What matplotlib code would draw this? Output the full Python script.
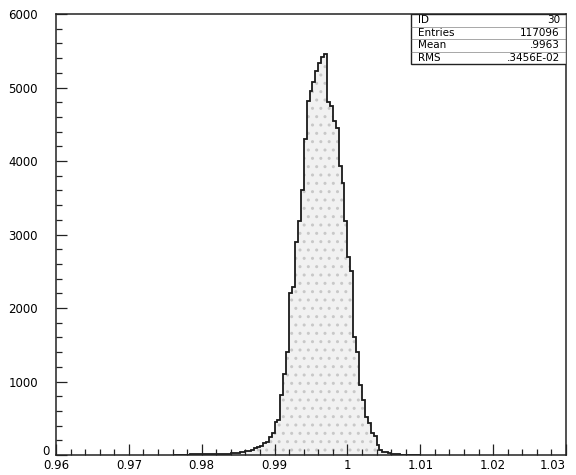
import numpy as np
import matplotlib
matplotlib.use("Agg")
import matplotlib.pyplot as plt
from matplotlib.ticker import MultipleLocator, FixedLocator

# Histogram 30: bin contents, 0.0004 wide bins starting at 0.9760
bin_lo = 0.9760
bin_width = 0.0004
counts = [
    3, 4, 4, 5, 6, 6, 7, 8, 8, 9, 10, 10, 11, 12, 13, 14, 15, 16, 18, 20, 22,
    25, 30, 40, 45, 55, 60, 70, 90, 110, 120,
    165, 175, 250, 300, 450, 480, 820, 1100, 1400, 2200,
    2290, 2900, 3180, 3600, 4300, 4810, 4950, 5080, 5220, 5330,
    5420, 5460, 4800, 4750, 4550, 4450, 3930, 3700, 3180, 2700,
    2500, 1610, 1400, 955, 750, 520, 440, 300, 260, 140,
    70, 45, 40, 27, 20, 12, 8, 6, 5, 4, 3, 3, 2, 2,
]

x_ticks = [0.96, 0.97, 0.98, 0.99, 1.00, 1.01, 1.02, 1.03]
x_tick_labels = ["0.96", "0.97", "0.98", "0.99", "1", "1.01", "1.02", "1.03"]
y_ticks = [0, 1000, 2000, 3000, 4000, 5000, 6000]
y_tick_labels = ["", "1000", "2000", "3000", "4000", "5000", "6000"]

stats_names = ["ID", "Entries", "Mean", "RMS"]
stats_values = ["30", "117096", ".9963", ".3456E-02"]

edges = bin_lo + bin_width * np.arange(len(counts) + 1)

fig = plt.figure(figsize=(5.76, 4.75), dpi=100)
ax = fig.add_axes([0.0972, 0.0421, 0.8854, 0.9284])

# stippled fill under the histogram, then the outline
ax.stairs(counts, edges, fill=True, facecolor="#f1f1f1", edgecolor="#c8c8c8",
          hatch="..", linewidth=0)
ax.stairs(counts, edges, color="#1a1a1a", linewidth=1.3)

ax.set_xlim(0.96, 1.03)
ax.set_ylim(0, 6000)

ax.xaxis.set_major_locator(FixedLocator(x_ticks))
ax.set_xticklabels(x_tick_labels)
ax.xaxis.set_minor_locator(MultipleLocator(0.002))
ax.yaxis.set_major_locator(FixedLocator(y_ticks))
ax.set_yticklabels(y_tick_labels)
ax.yaxis.set_minor_locator(MultipleLocator(200))

ax.tick_params(which="both", direction="in", top=False, right=False,
               labelsize=8.5, color="#222222", width=0.9)
ax.tick_params(which="major", length=8)
ax.tick_params(which="minor", length=4)
ax.tick_params(axis="x", which="major", pad=3)
ax.tick_params(axis="y", which="major", pad=13)
for s in ax.spines.values():
    s.set_linewidth(1.1)
    s.set_color("#222222")

# the last x label sits right at the figure edge
ax.get_xticklabels()[-1].set_horizontalalignment("right")
ax.get_xticklabels()[-1].set_x(1.0315)

# zero of the y axis drawn a little above the corner
ax.text(-0.012, 0.008, "0", transform=ax.transAxes, fontsize=8.5,
        ha="right", va="center")

# statistics box in the top right corner
bx0, bx1 = 0.697, 1.0
row_h = 0.0285
top = 1.0
ax.add_patch(plt.Rectangle((bx0, top - 4 * row_h), bx1 - bx0, 4 * row_h,
                           transform=ax.transAxes, facecolor="white",
                           edgecolor="#222222", linewidth=1.0, zorder=5))
for i, (name, val) in enumerate(zip(stats_names, stats_values)):
    yc = top - (i + 0.5) * row_h
    ax.text(bx0 + 0.012, yc, name, transform=ax.transAxes, fontsize=7.5,
            va="center", ha="left", zorder=6)
    ax.text(bx1 - 0.012, yc, val, transform=ax.transAxes, fontsize=7.5,
            va="center", ha="right", zorder=6)
    if i > 0:
        ax.plot([bx0, bx1], [top - i * row_h] * 2, transform=ax.transAxes,
                color="#666666", linewidth=0.4, zorder=6)

fig.savefig("out.png", dpi=100)
